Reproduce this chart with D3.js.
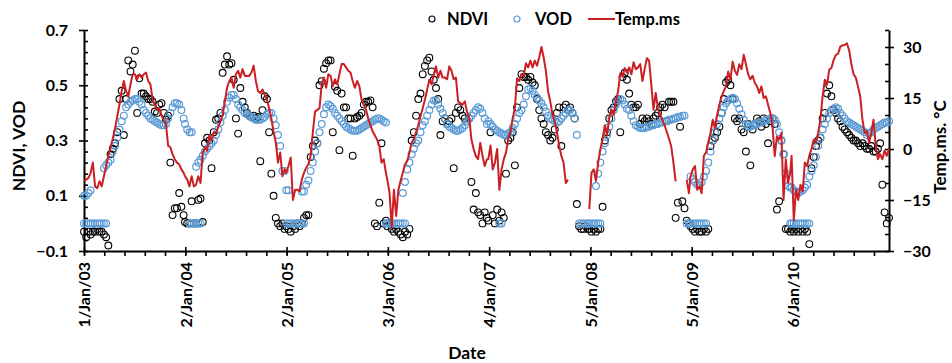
<!DOCTYPE html>
<html>
<head>
<meta charset="utf-8">
<script src="https://cdn.jsdelivr.net/npm/d3@7"></script>
<style>
  body { margin: 0; background: #fff; }
  svg text { font-family: Lato, "Liberation Sans", sans-serif; font-weight: bold; fill: #000; }
  .axis path, .axis line { stroke: #000; }
  .axis path { stroke-width: 2; }
  .axis line { stroke-width: 1.6; }
</style>
</head>
<body>
<div id="chart"></div>
<script>
// 8-day samples: point i of a year sits on day 1 + 8*i
const years = [2003, 2004, 2005, 2006, 2007, 2008, 2009, 2010];

const ndvi2003 = [-0.03,-0.05,-0.03,-0.04,-0.03,-0.03,-0.02,-0.03,-0.03,-0.04,-0.05,-0.08,
  0.25,0.27,0.29,0.33,0.45,0.48,0.32,0.45,0.59,0.55,0.575,0.625,
  0.40,0.525,0.47,0.47,0.46,0.45,0.45,0.44,0.405,0.40,0.43,0.435,
  0.40,0.375,0.39,0.22,0.03,0.055,0.055,0.11,0.06,0.03];
const ndvi2004 = [0.005,0.0,0.0,0.08,0.0,0.0,0.085,0.09,0.005,0.29,0.31,0.30,
  0.20,0.33,0.375,0.38,0.40,0.545,0.575,0.605,0.575,0.58,0.52,0.38,
  0.325,0.49,0.44,0.42,0.40,0.39,0.385,0.39,0.38,0.385,0.225,0.41,
  0.46,0.45,0.33,0.18,0.10,0.02,0.0,-0.01,0.0,-0.02];
const ndvi2005 = [-0.01,-0.02,-0.03,-0.01,-0.02,0.0,-0.01,0.0,0.02,0.03,
  0.03,0.24,0.28,0.30,0.29,0.50,0.515,0.56,0.58,0.59,
  0.59,0.33,0.495,0.48,0.265,0.47,0.42,0.42,0.38,0.38,
  0.245,0.38,0.385,0.39,0.40,0.43,0.44,0.44,0.445,0.42,
  0.0,-0.01,0.075,0.29,0.0,0.01];
const ndvi2006 = [-0.01,0.0,-0.02,-0.03,-0.02,-0.03,-0.04,-0.05,-0.03,-0.04,-0.02,
  0.30,0.33,0.39,0.45,0.47,0.54,0.57,0.59,0.60,0.55,0.52,0.49,0.45,
  0.32,0.37,0.38,0.36,0.37,0.38,0.20,0.40,0.42,0.41,0.39,0.38,0.37,0.38,
  0.15,0.05,0.11,0.04,0.03,0.0,0.04,0.02];
const ndvi2007 = [0.01,0.33,0.03,0.0,0.05,0.01,0.04,0.02,0.18,0.30,
  0.31,0.33,0.21,0.42,0.49,0.54,0.53,0.53,0.52,0.53,
  0.51,0.50,0.45,0.41,0.38,0.36,0.33,0.32,0.30,0.31,
  0.34,0.40,0.42,0.28,0.42,0.43,0.41,0.42,0.40,0.38,
  0.07,-0.01,-0.02,-0.02,-0.01,-0.02];
const ndvi2008 = [-0.02,-0.03,-0.02,-0.03,-0.02,-0.02,0.06,0.30,0.33,0.38,
  0.41,0.42,0.44,0.45,0.33,0.53,0.545,0.52,0.47,0.43,
  0.42,0.42,0.43,0.36,0.38,0.37,0.38,0.37,0.36,0.38,
  0.39,0.40,0.42,0.43,0.42,0.37,0.44,0.44,0.44,0.02,
  0.075,0.35,0.08,0.055,0.01,0.0];
const ndvi2009 = [-0.01,-0.02,-0.03,-0.02,-0.03,-0.03,-0.02,-0.03,-0.02,0.28,
  0.30,0.31,0.33,0.35,0.40,0.45,0.51,0.52,0.50,0.45,
  0.38,0.37,0.38,0.34,0.33,0.26,0.36,0.21,0.34,0.36,
  0.38,0.37,0.35,0.38,0.36,0.29,0.37,0.38,0.36,0.05,
  0.08,0.30,0.25,-0.02,-0.02,-0.03];
const ndvi2010 = [-0.02,-0.03,-0.02,-0.03,-0.02,-0.03,-0.02,-0.03,-0.075,0.20,
  0.24,0.28,0.30,0.31,0.38,0.40,0.47,0.50,0.46,0.41,
  0.40,0.38,0.37,0.35,0.34,0.33,0.32,0.31,0.30,0.30,
  0.29,0.28,0.29,0.28,0.27,0.27,0.28,0.26,0.26,0.27,
  0.29,0.14,0.04,0.0,0.02];

const vod2003 = [0.10,0.10,0.11,0.12,null,null,null,null,null,0.20,
  0.21,0.22,0.23,0.26,0.28,0.31,0.34,0.37,0.39,0.42,
  0.43,0.44,0.445,0.45,0.45,0.44,0.43,0.41,0.40,0.39,
  0.38,0.375,0.37,0.365,0.36,0.355,0.355,0.36,0.38,0.40,
  0.42,0.435,0.435,0.43,0.41,0.38];
const vod2004 = [0.36,0.34,0.33,0.33,null,0.205,0.22,0.23,0.245,0.26,
  0.27,0.28,0.29,0.30,0.32,0.34,0.365,0.39,0.41,0.44,
  0.455,0.465,0.465,0.45,0.43,0.42,0.41,0.40,0.395,0.39,
  0.385,0.38,0.375,0.375,0.375,0.38,0.385,0.395,0.40,0.40,
  0.38,0.355,0.32,0.28,0.19,0.19];
const vod2005 = [0.12,0.12,null,null,null,null,null,0.115,0.115,0.14,
  0.155,0.19,0.22,0.26,0.29,0.33,0.36,0.395,0.42,0.43,
  0.425,0.415,0.40,0.39,0.38,0.37,0.36,0.35,0.345,0.34,
  0.335,0.335,0.335,0.34,0.345,0.35,0.355,0.36,0.365,0.37,
  0.375,0.38,0.38,0.375,0.37,0.365];
const vod2006 = [null,null,null,null,null,null,null,0.11,0.15,0.195,
  0.22,0.25,0.27,0.29,0.30,0.33,0.355,0.37,0.39,0.41,
  0.43,0.445,0.445,0.43,0.415,0.40,0.38,0.36,0.35,0.345,
  0.34,0.335,0.335,0.34,0.345,0.355,0.37,0.38,0.39,0.40,
  0.41,0.42,0.415,0.40,0.38,0.36];
const vod2007 = [0.37,0.36,0.35,0.34,0.335,0.33,0.325,0.32,0.32,0.325,
  0.33,0.345,0.36,0.38,0.40,0.41,0.43,0.46,0.485,0.49,
  0.48,0.465,0.455,0.445,0.435,0.42,0.405,0.39,0.38,0.375,
  0.37,0.365,0.37,0.38,0.39,0.40,0.41,0.41,0.40,0.38,
  0.32,null,null,null,null,null];
const vod2008 = [null,null,null,0.135,0.18,0.22,0.26,0.29,0.32,0.35,
  0.38,0.41,0.43,0.445,0.45,0.445,0.43,0.415,0.41,0.39,
  0.37,0.355,0.35,0.345,0.345,0.345,0.35,0.35,0.355,0.355,
  0.36,0.36,0.365,0.365,0.37,0.37,0.375,0.375,0.38,0.38,
  0.385,0.385,0.39,0.39,null,null];
const vod2009 = [0.17,0.16,0.15,0.14,0.14,0.15,0.17,0.19,0.22,0.26,
  0.30,0.33,0.36,0.38,0.40,0.42,0.435,0.445,0.45,0.455,
  0.45,0.435,0.415,0.395,0.375,0.36,0.35,0.35,0.355,0.36,
  0.36,0.365,0.365,0.37,0.375,0.375,0.38,0.38,0.375,0.36,
  0.33,0.30,0.25,0.18,0.135,0.13];
const vod2010 = [0.13,0.12,0.115,0.11,0.115,0.12,0.13,0.14,0.17,0.19,
  0.21,0.24,0.28,0.31,0.34,0.36,0.38,0.40,0.41,0.415,
  0.42,0.415,0.40,0.39,0.38,0.37,0.365,0.36,0.355,0.35,
  0.345,0.34,0.335,0.33,0.32,0.325,0.33,0.34,0.345,0.35,
  0.355,0.36,0.365,0.365,0.37];

// winter samples where VOD is reported as 0 (sample index within the year)
const vodZero2003 = [0,1,2,3,4,5,6,7,8,9,10];
const vodZero2004 = [2,3,4,5,6,7];
const vodZero2005 = [0,1,2,3,4,5,6,7,8,45];
const vodZero2006 = [0,1,2,3,4,5,6,7,8];
const vodZero2007 = [5,6,41,42,43,44,45];
const vodZero2008 = [0,1,2,3,4,5,44,45];
const vodZero2009 = [0,1,2,3,4,5,6,7,45];
const vodZero2010 = [0,1,2,3,4,5,6,7,8];

const temp2003 = [-9.5,-9,-8.5,-7,-4,-11,-11.5,-9.5,-11,-8,
  -5,-2,0.5,3,6,9.5,13,17,20,17,
  15.5,19,22,22,20.5,22,21,22,22.5,20,
  19,14.5,13,11.5,12,10,8.5,7.5,1,0.5,
  -1.5,-3,-4,-4.5,-6,-7];
const temp2004 = [-8,-9,-11,-8,-11,-10.5,-8,-10,-1,0.5,
  -0.5,4,2.5,5,4.5,6.5,8,10,14,18,
  20,21,18,22,23,21,23.5,21.5,21.5,21.5,
  22.5,24.5,20,17,16.5,17.5,16,14.5,12,9,
  5,2,-4,-1,-8,-6];
const temp2005 = [-7,-5,-2.5,-15,-12,-12,-12.4,-9,-7,-5.5,
  -4.5,-2,5,11,11.5,12,19,21,18,22,
  21.5,18.5,20.5,19,22,25,25,24,23,22.5,
  20,18,20,18.5,14.5,13,11.6,9,7,5.2,
  4,2.8,1,-4,-3,-7];
const temp2006 = [-9,-12.8,-23,-12,-19.7,-12,-9.4,-7,-4.5,-3.6,
  -1,1.9,3,5,7,9.6,12,14.5,17.4,20.4,
  19,22,24.3,21,23,21,21,20.5,24.3,23,
  20.5,21,14,13.5,13,14,11,9.2,2.8,0,
  -2.1,-3,1.8,-2,-5,-3];
const temp2007 = [-3,1,-6,-4,0,-12,-6,-3,-1,3,
  5,9,12,20.8,20,22,21.5,25.2,24,26,
  24,26,24.5,27,30,27,23,17,14,10,
  8,5,1,-2,-4,-10,-9,null,null,null,
  null,null,null,null,null,null];
const temp2008 = [-17.7,-7,-6,-9.4,-4,-0.1,3,7,4,9,
  11.6,10,14,17,22.3,21.3,23.8,22.5,24,22,
  25.5,23.5,24,25,20,23.5,26.7,26,19,11.6,
  16.5,12,10,8.6,7,5,3,0.8,-4,-9.5,
  null,null,null,null,-9,-13];
const temp2009 = [-8,-6,-5,-12,-11,-13,-2,-1,2,4.7,
  8.6,6.2,10,13,15.5,17,18.4,22.8,20.4,25.7,
  23,21.8,24.9,23.5,27.7,24.9,22,20.5,21.5,19.5,
  18.4,16.5,18.4,15,15.5,13,10.6,6.7,-2.1,3.7,
  2.8,4.7,-15,-3,-10,-7];
const temp2010 = [-2,-21,-12,-15,-10.5,-12.5,-4,-5,-2,0,
  2.8,2,4.7,8.6,15.5,20.4,18.9,23.3,23.8,26.2,
  27.7,28,30.1,30.5,30.6,31.1,29,25,22,21,
  18.4,15.5,8.6,4.7,5.2,1.8,4.7,8.6,0.8,-3,
  -1.5,-3,-0.5,-2,0];

const leftTicks = [-0.1, 0.1, 0.3, 0.5, 0.7];
const rightTicks = [-30, -15, 0, 15, 30];

const ndviYears = [ndvi2003, ndvi2004, ndvi2005, ndvi2006, ndvi2007, ndvi2008, ndvi2009, ndvi2010];
const vodYears = [vod2003, vod2004, vod2005, vod2006, vod2007, vod2008, vod2009, vod2010];
const zeroYears = [vodZero2003, vodZero2004, vodZero2005, vodZero2006, vodZero2007, vodZero2008, vodZero2009, vodZero2010];
const tempYears = [temp2003, temp2004, temp2005, temp2006, temp2007, temp2008, temp2009, temp2010];

const sampleDate = (year, i) => new Date(year, 0, 1 + 8 * i);
const toPoints = arrs => arrs.flatMap((arr, k) =>
  arr.map((v, i) => ({ date: sampleDate(years[k], i), v })));

const ndvi = toPoints(ndviYears).filter(d => d.v !== null);
const vod = toPoints(vodYears).filter(d => d.v !== null)
  .concat(zeroYears.flatMap((idx, k) => idx.map(i => ({ date: sampleDate(years[k], i), v: 0 }))));
const temp = toPoints(tempYears);

const W = 952, H = 363;
const plot = { left: 84, right: 889, top: 30, bottom: 251 };
const xStart = new Date(2003, 0, 1);
const xEnd = new Date(2010, 11, 19);

const svg = d3.select('#chart').append('svg').attr('width', W).attr('height', H);

const x = d3.scaleTime().domain([xStart, xEnd]).range([plot.left, plot.right]);
const y = d3.scaleLinear().domain([-0.1, 0.7]).range([plot.bottom, plot.top]);
const yT = d3.scaleLinear().domain([-30, 35]).range([plot.bottom, plot.top]);

// x ticks: major every 366 days, minor every fifth of that
const dayMs = 864e5;
const majorX = d3.range(0, 8).map(k => new Date(xStart.getTime() + k * 366 * dayMs));
const minorX = d3.range(0, 40).map(k => new Date(xStart.getTime() + k * 73.2 * dayMs))
  .filter(d => d <= xEnd);
const minorLeft = d3.range(0, 21).map(k => -0.1 + k * 0.04);
const minorRight = d3.range(0, 14).map(k => -30 + k * 5);

const fmtDate = d3.timeFormat('%-d/%b/%y');

// left axis
svg.append('g').attr('class', 'axis')
  .attr('transform', `translate(${plot.left},0)`)
  .call(d3.axisRight(y).tickValues(minorLeft).tickSize(4).tickSizeOuter(0).tickFormat(''))
  .call(g => g.select('.domain').remove());
svg.append('g').attr('class', 'axis')
  .attr('transform', `translate(${plot.left},0)`)
  .call(d3.axisLeft(y).tickValues(leftTicks).tickSize(5).tickSizeOuter(0).tickPadding(11)
    .tickFormat(d3.format('.1f')))
  .call(g => g.selectAll('text').style('font-size', '16px'));

// right axis
svg.append('g').attr('class', 'axis')
  .attr('transform', `translate(${plot.right},0)`)
  .call(d3.axisLeft(yT).tickValues(minorRight).tickSize(4).tickSizeOuter(0).tickFormat(''))
  .call(g => g.select('.domain').remove());
svg.append('g').attr('class', 'axis')
  .attr('transform', `translate(${plot.right},0)`)
  .call(d3.axisRight(yT).tickValues(rightTicks).tickSize(5).tickSizeOuter(0).tickPadding(9))
  .call(g => g.selectAll('text').style('font-size', '16px'));

// x axis
svg.append('g').attr('class', 'axis')
  .attr('transform', `translate(0,${plot.bottom})`)
  .call(d3.axisBottom(x).tickValues(minorX).tickSize(5).tickSizeOuter(0).tickFormat(''))
  .call(g => g.select('.domain').remove());
svg.append('g').attr('class', 'axis')
  .attr('transform', `translate(0,${plot.bottom})`)
  .call(d3.axisTop(x).tickValues(majorX).tickSize(4).tickSizeOuter(0).tickFormat(''))
  .call(g => g.select('.domain').remove());
svg.append('g').attr('class', 'axis')
  .attr('transform', `translate(0,${plot.bottom})`)
  .call(d3.axisBottom(x).tickValues(majorX).tickSize(4).tickSizeOuter(0).tickFormat(fmtDate))
  .call(g => g.selectAll('text')
    .style('font-size', '16px')
    .style('text-anchor', 'end')
    .attr('transform', 'rotate(-90)')
    .attr('x', -11).attr('y', 0).attr('dy', '0.36em'));

// series
svg.append('g').selectAll('circle').data(ndvi).join('circle')
  .attr('cx', d => x(d.date)).attr('cy', d => y(d.v)).attr('r', 3.4)
  .attr('fill', 'none').attr('stroke', '#000').attr('stroke-width', 1.1);

svg.append('g').selectAll('circle').data(vod).join('circle')
  .attr('cx', d => x(d.date)).attr('cy', d => y(d.v)).attr('r', 3.4)
  .attr('fill', 'none').attr('stroke', '#5b9bd5').attr('stroke-width', 1.2);

const line = d3.line().defined(d => d.v !== null && d.date <= xEnd)
  .x(d => x(d.date)).y(d => yT(d.v));
svg.append('path').datum(temp)
  .attr('fill', 'none').attr('stroke', '#cc1f24').attr('stroke-width', 2)
  .attr('stroke-linejoin', 'round').attr('d', line);

// axis titles
svg.append('text').attr('transform', 'translate(25,146) rotate(-90)')
  .attr('text-anchor', 'middle').style('font-size', '17.5px').text('NDVI, VOD');
svg.append('text').attr('transform', 'translate(946,147) rotate(-90)')
  .attr('text-anchor', 'middle').style('font-size', '17px').text('Temp.ms. °C');
svg.append('text').attr('x', 467).attr('y', 359)
  .attr('text-anchor', 'middle').style('font-size', '17.5px').text('Date');

// legend
const legend = svg.append('g');
legend.append('circle').attr('cx', 432).attr('cy', 19).attr('r', 3)
  .attr('fill', 'none').attr('stroke', '#000').attr('stroke-width', 1.1);
legend.append('text').attr('x', 447).attr('y', 25).style('font-size', '16.5px').text('NDVI');
legend.append('circle').attr('cx', 517).attr('cy', 19).attr('r', 3)
  .attr('fill', 'none').attr('stroke', '#5b9bd5').attr('stroke-width', 1.2);
legend.append('text').attr('x', 535).attr('y', 25).style('font-size', '16.5px').text('VOD');
legend.append('line').attr('x1', 588).attr('x2', 615).attr('y1', 19).attr('y2', 19)
  .attr('stroke', '#cc1f24').attr('stroke-width', 2);
legend.append('text').attr('x', 615).attr('y', 25).style('font-size', '16.5px').text('Temp.ms');
</script>
</body>
</html>
